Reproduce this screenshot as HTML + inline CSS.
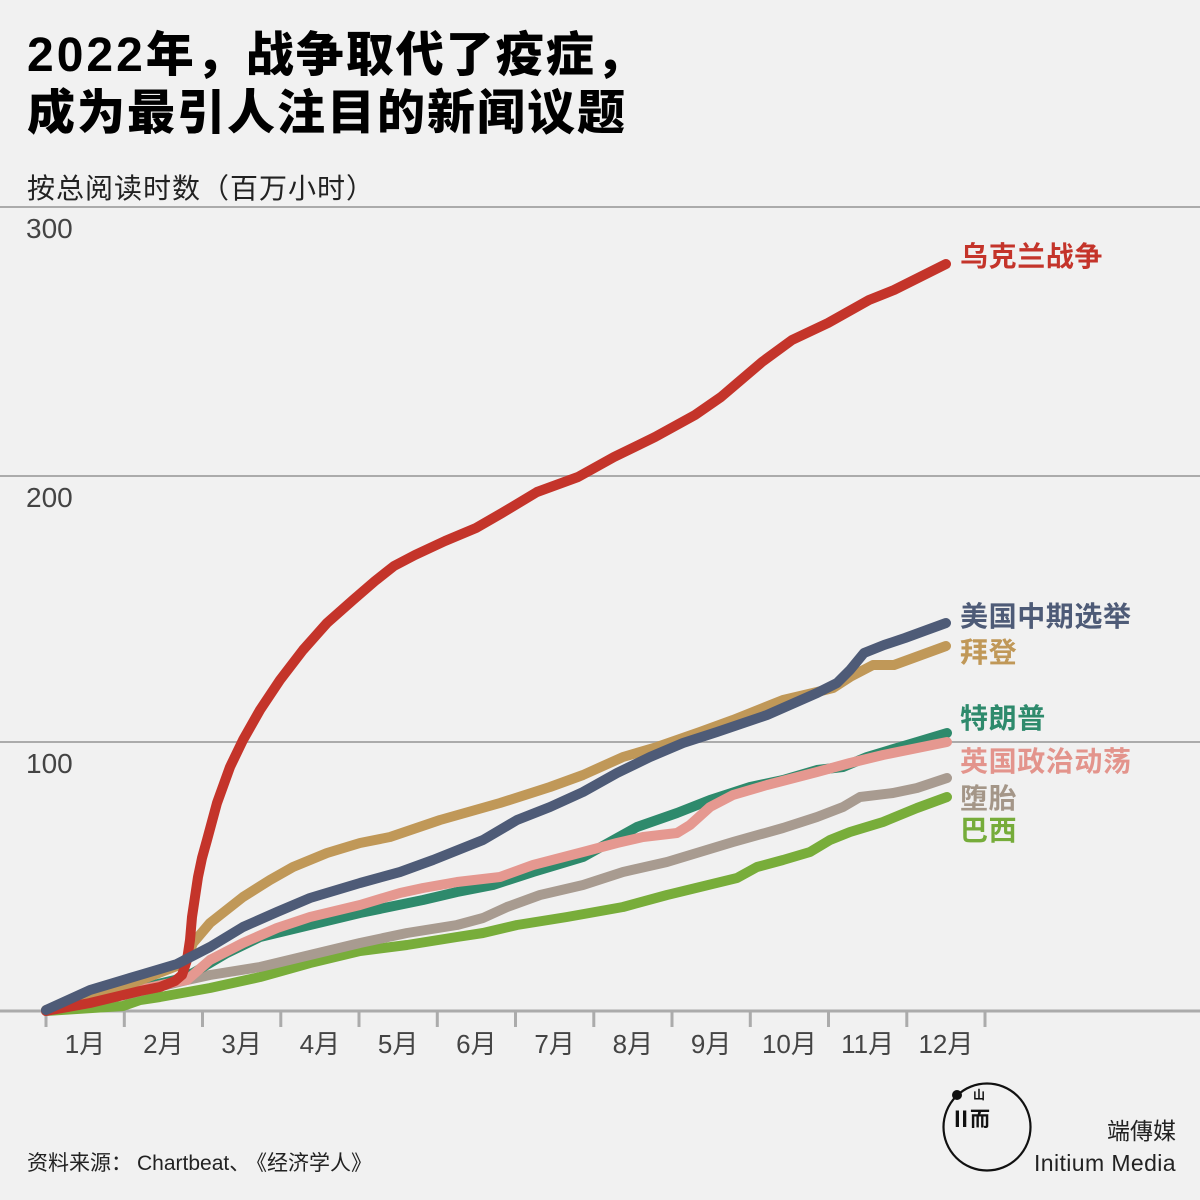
<!DOCTYPE html>
<html><head><meta charset="utf-8"><style>
html,body{margin:0;padding:0;background:#f1f1f1;}
svg{display:block;}
text{font-family:"Liberation Sans","Noto Sans CJK SC",sans-serif;}
</style></head><body>
<svg width="1200" height="1200" viewBox="0 0 1200 1200" xmlns="http://www.w3.org/2000/svg">
<rect width="1200" height="1200" fill="#f1f1f1"/>
<text x="27" y="71" font-size="48" font-weight="900" fill="#000"><tspan letter-spacing="3">2022</tspan><tspan letter-spacing="2">年，战争取代了疫症，</tspan></text>
<text x="27" y="129" font-size="48" font-weight="900" fill="#000" letter-spacing="2">成为最引人注目的新闻议题</text>
<text x="27" y="198" font-size="28" fill="#222" letter-spacing="1">按总阅读时数（百万小时）</text>
<g stroke="#ababab" stroke-width="2">
<line x1="0" y1="207" x2="1200" y2="207"/>
<line x1="0" y1="476" x2="1200" y2="476"/>
<line x1="0" y1="742" x2="1200" y2="742"/>
</g>
<g font-size="28" fill="#444">
<text x="26" y="238">300</text>
<text x="26" y="507">200</text>
<text x="26" y="773">100</text>
</g>
<line x1="0" y1="1011" x2="1200" y2="1011" stroke="#ababab" stroke-width="3"/>
<g stroke="#ababab" stroke-width="3">
<line x1="46" y1="1011" x2="46" y2="1027"/>
<line x1="124.3" y1="1011" x2="124.3" y2="1027"/>
<line x1="202.5" y1="1011" x2="202.5" y2="1027"/>
<line x1="280.8" y1="1011" x2="280.8" y2="1027"/>
<line x1="359" y1="1011" x2="359" y2="1027"/>
<line x1="437.3" y1="1011" x2="437.3" y2="1027"/>
<line x1="515.5" y1="1011" x2="515.5" y2="1027"/>
<line x1="593.8" y1="1011" x2="593.8" y2="1027"/>
<line x1="672" y1="1011" x2="672" y2="1027"/>
<line x1="750.3" y1="1011" x2="750.3" y2="1027"/>
<line x1="828.5" y1="1011" x2="828.5" y2="1027"/>
<line x1="906.8" y1="1011" x2="906.8" y2="1027"/>
<line x1="985" y1="1011" x2="985" y2="1027"/>
</g>
<g font-size="26" fill="#444" text-anchor="middle">
<text x="85" y="1053">1月</text>
<text x="163.4" y="1053">2月</text>
<text x="241.6" y="1053">3月</text>
<text x="319.9" y="1053">4月</text>
<text x="398.1" y="1053">5月</text>
<text x="476.4" y="1053">6月</text>
<text x="554.6" y="1053">7月</text>
<text x="632.9" y="1053">8月</text>
<text x="711.1" y="1053">9月</text>
<text x="789.4" y="1053">10月</text>
<text x="867.6" y="1053">11月</text>
<text x="945.9" y="1053">12月</text>
</g>
<g fill="none" stroke-width="10" stroke-linecap="round" stroke-linejoin="round">
<polyline stroke="#78ad3a" points="46,1011 123,1006 140,1000 160,997 210,988 260,977 310,963 360,951 407,945 457,937 483,933 517,925 567,917 623,907 667,895 700,887 737,878 757,867 783,860 810,852 830,840 850,832 883,822 917,808 947,797"/>
<polyline stroke="#a89b90" points="46,1011 120,996 187,980 210,975 260,967 310,955 360,943 407,933 457,925 483,918 507,907 540,895 583,885 623,872 667,862 700,852 733,842 783,828 817,817 843,807 860,797 893,793 917,788 947,778"/>
<polyline stroke="#2e8a6c" points="46,1011 120,993 175,980 193,973 227,953 260,937 310,925 360,913 423,900 457,892 493,885 533,872 583,857 610,842 637,827 677,813 710,800 750,787 783,780 817,770 843,767 867,757 917,742 947,733"/>
<polyline stroke="#e59890" points="46,1011 120,994 175,982 187,980 210,960 243,943 277,928 310,917 360,905 400,893 423,888 457,882 500,877 533,865 583,852 617,843 643,837 677,833 690,825 710,807 733,795 767,785 817,772 850,763 883,755 947,742"/>
<polyline stroke="#c09858" points="46,1010 120,988 177,966 187,958 193,943 210,923 243,897 270,880 293,867 327,853 360,843 390,837 440,820 500,803 550,787 583,775 623,757 657,747 700,732 733,720 783,700 817,692 833,688 850,677 873,665 894,665 946,646"/>
<polyline stroke="#c4342a" points="46,1011 90,1003 140,991 160,987 175,981 182,975 187,960 190,940 192,917 195,897 198,877 202,858 207,840 217,803 230,767 243,740 260,710 280,680 303,650 327,623 353,600 375,581 394,566 415,555 445,541 476,528 502,513 537,492 578,477 614,457 655,437 695,415 721,397 762,362 792,340 828,323 869,300 894,290 920,277 946,264"/>
<polyline stroke="#4e5b77" points="46,1010 90,990 140,975 177,964 210,947 243,927 277,912 310,898 360,883 400,872 433,860 483,840 517,820 550,807 583,792 617,773 650,757 683,743 717,732 767,715 817,693 837,683 850,670 864,653 884,645 905,638 946,623"/>
</g>
<g font-size="28" font-weight="700" letter-spacing="0.6">
<text x="960" y="266" fill="#c4342a">乌克兰战争</text>
<text x="960" y="626" fill="#4e5b77">美国中期选举</text>
<text x="960" y="662" fill="#c09858">拜登</text>
<text x="960" y="728" fill="#2e8a6c">特朗普</text>
<text x="960" y="771" fill="#e3948c">英国政治动荡</text>
<text x="960" y="808" fill="#a49688">堕胎</text>
<text x="960" y="840" fill="#76ac3a">巴西</text>
</g>
<text y="1170" font-size="21" fill="#222"><tspan x="27">资料来源：</tspan><tspan x="137">Chartbeat、</tspan><tspan x="246">《经济学人》</tspan></text>
<circle cx="987" cy="1127" r="43.5" fill="none" stroke="#111" stroke-width="2.2"/>
<circle cx="957" cy="1095" r="5" fill="#111"/>
<text x="950" y="1127" font-size="22" font-weight="700" fill="#111" font-family="'DejaVu Sans',sans-serif">Ⅱ</text>
<text x="970" y="1126" font-size="20" font-weight="700" fill="#111">而</text>
<text x="973" y="1099" font-size="12" font-weight="700" fill="#111">山</text>
<text x="1176" y="1139" font-size="23" fill="#222" text-anchor="end">端傳媒</text>
<text x="1176" y="1171" font-size="23" fill="#222" text-anchor="end" letter-spacing="0.4">Initium Media</text>
</svg>
</body></html>
